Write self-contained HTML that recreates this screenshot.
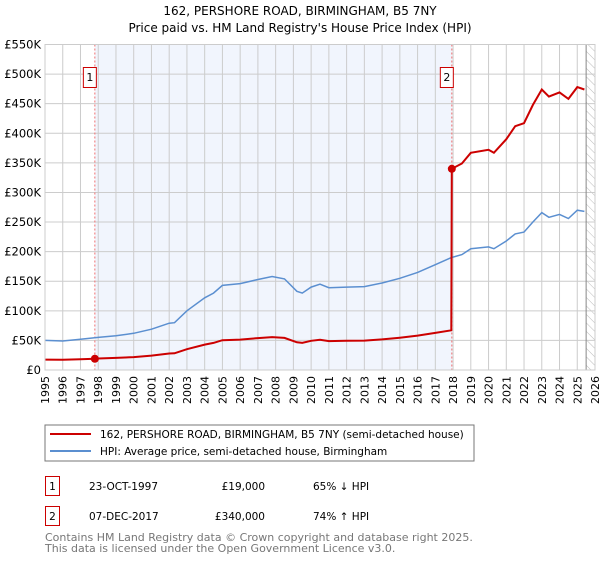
<!DOCTYPE html>
<html><head><meta charset="utf-8"><style>
body{margin:0;background:#fff;font-family:"Liberation Sans","DejaVu Sans",sans-serif;}
svg text{font-family:"DejaVu Sans","Liberation Sans",sans-serif;}
</style></head><body>
<svg id="c" width="600" height="560" xmlns="http://www.w3.org/2000/svg">
<defs><pattern id="hatch" width="6" height="6" patternUnits="userSpaceOnUse" patternTransform="rotate(-45)"><line x1="0" y1="0" x2="0" y2="6" stroke="#bbb" stroke-width="1"/></pattern></defs>
<text x="300" y="15" text-anchor="middle" font-size="12">162, PERSHORE ROAD, BIRMINGHAM, B5 7NY</text>
<text x="300" y="32" text-anchor="middle" font-size="12">Price paid vs. HM Land Registry's House Price Index (HPI)</text>
<g id="plot"></g>
<g>
<rect x="45" y="425" width="429" height="36" fill="#fff" stroke="#777"/>
<line x1="50" y1="434" x2="91" y2="434" stroke="#cc0000" stroke-width="2"/>
<text x="100" y="438" font-size="10.5">162, PERSHORE ROAD, BIRMINGHAM, B5 7NY (semi-detached house)</text>
<line x1="50" y1="451" x2="91" y2="451" stroke="#5b8fd0" stroke-width="2"/>
<text x="100" y="455" font-size="10.5">HPI: Average price, semi-detached house, Birmingham</text>
</g>
<g font-size="10.5">
<rect x="45.5" y="476.5" width="14" height="19" fill="#fff" stroke="#cc0000"/>
<text x="52.5" y="490" text-anchor="middle">1</text>
<text x="89" y="490">23-OCT-1997</text>
<text x="265" y="490" text-anchor="end">£19,000</text>
<text x="313" y="490">65% ↓ HPI</text>
<rect x="45.5" y="506.5" width="14" height="19" fill="#fff" stroke="#cc0000"/>
<text x="52.5" y="520" text-anchor="middle">2</text>
<text x="89" y="520">07-DEC-2017</text>
<text x="265" y="520" text-anchor="end">£340,000</text>
<text x="313" y="520">74% ↑ HPI</text>
</g>
<text x="45" y="541" font-size="11" fill="#777">Contains HM Land Registry data © Crown copyright and database right 2025.</text>
<text x="45" y="552" font-size="11" fill="#777">This data is licensed under the Open Government Licence v3.0.</text>
</svg>
<script>
const hpiYears=[1995,1996,1997,1998,1999,2000,2001,2002,2002.3,2003,2004,2004.5,2005,2006,2007,2007.8,2008.5,2009.2,2009.5,2010,2010.5,2011,2012,2013,2014,2015,2016,2017,2017.9,2018.5,2019,2020,2020.3,2021,2021.5,2022,2022.5,2023,2023.4,2024,2024.5,2025,2025.4];
const hpiValues=[50,49,52,55,58,62,69,79,80,100,122,130,143,146,153,158,154,133,130,140,145,139,140,141,147,155,165,178,190,195,205,208,205,218,230,233,250,266,258,263,256,270,268];
const redYears=[1995,1996,1997,1997.81,1998,1999,2000,2001,2002,2002.3,2003,2004,2004.5,2005,2006,2007,2007.8,2008.5,2009.2,2009.5,2010,2010.5,2011,2012,2013,2014,2015,2016,2017,2017.9,2017.93,2018.5,2019,2020,2020.3,2021,2021.5,2022,2022.5,2023,2023.4,2024,2024.5,2025,2025.4];
const redValues=[17.6,17.2,18.3,19,19.4,20.4,21.8,24.3,27.8,28.2,35.2,42.9,45.8,50.3,51.4,53.9,55.6,54.2,46.8,45.8,49.3,51,48.9,49.3,49.6,51.7,54.6,58.1,62.7,67,340,349,367,372,367,390,412,417,448,474,462,469,458,478,474];
const saleYears=[1997.81,2017.93];
const saleValues=[19,340];
const saleLabels=["1","2"];
const yTicks=[0,50,100,150,200,250,300,350,400,450,500,550];
const xTicks=[1995,1996,1997,1998,1999,2000,2001,2002,2003,2004,2005,2006,2007,2008,2009,2010,2011,2012,2013,2014,2015,2016,2017,2018,2019,2020,2021,2022,2023,2024,2025,2026];
const X0=45,X1=595,Y0=370,Y1=44.5;
const xs=y=>X0+(y-1995)/(2026-1995)*(X1-X0);
const ys=v=>Y0-v/550*(Y0-Y1);
const NS="http://www.w3.org/2000/svg";
const g=document.getElementById('plot');
function mk(t,a){const e=document.createElementNS(NS,t);for(const k in a)e.setAttribute(k,a[k]);g.appendChild(e);return e;}
let e=mk('rect',{x:xs(saleYears[0]),y:Y1,width:xs(saleYears[1])-xs(saleYears[0]),height:Y0-Y1,fill:'#f1f5fd'});


e=mk('rect',{x:xs(2025.5),y:Y1,width:X1-xs(2025.5),height:Y0-Y1,fill:'url(#hatch)'});


xTicks.forEach(t=>{
 e=mk('line',{x1:xs(t),x2:xs(t),y1:Y1,y2:Y0,stroke:'#ccc','stroke-width':1});
 
 
 e=mk('text',{x:0,y:0,'font-size':11,'text-anchor':'end',transform:`translate(${xs(t)+4},${Y0+6}) rotate(-90)`});
 e.textContent=t;
 
 
});
yTicks.forEach(t=>{
 e=mk('line',{x1:X0,x2:X1,y1:ys(t),y2:ys(t),stroke:'#ccc','stroke-width':1});
 
 
 e=mk('text',{x:X0-4,y:ys(t)+4,'font-size':11.5,'text-anchor':'end'});
 e.textContent=t===0?'£0':'£'+t+'K';
 
 
});
e=mk('line',{x1:xs(2025.5),x2:xs(2025.5),y1:Y1,y2:Y0,stroke:'#888','stroke-width':1});


saleYears.forEach((s,i)=>{
 e=mk('line',{x1:xs(s),x2:xs(s),y1:Y1,y2:Y0,stroke:'#f07070','stroke-width':1,'stroke-dasharray':'2,2'});
 
 
});
const pts=(xa,va)=>xa.map((x,i)=>xs(x).toFixed(1)+','+ys(va[i]).toFixed(1)).join(' ');
e=mk('polyline',{points:pts(hpiYears,hpiValues),fill:'none',stroke:'#5b8fd0','stroke-width':1.5});


e=mk('polyline',{points:pts(redYears,redValues),fill:'none',stroke:'#cc0000','stroke-width':2});


saleYears.forEach((s,i)=>{
 e=mk('circle',{cx:xs(s),cy:ys(saleValues[i]),r:4,fill:'#cc0000'});
 
 
 e=mk('rect',{x:xs(s)-11.5,y:67.5,width:13,height:20,fill:'#fff',stroke:'#cc0000'});
 
 
 e=mk('text',{x:xs(s)-5,y:81,'font-size':11,'text-anchor':'middle'});
 e.textContent=saleLabels[i];
 
 
});
e=mk('rect',{x:X0,y:Y1,width:X1-X0,height:Y0-Y1,fill:'none',stroke:'#ccc'});


</script>
</body></html>
